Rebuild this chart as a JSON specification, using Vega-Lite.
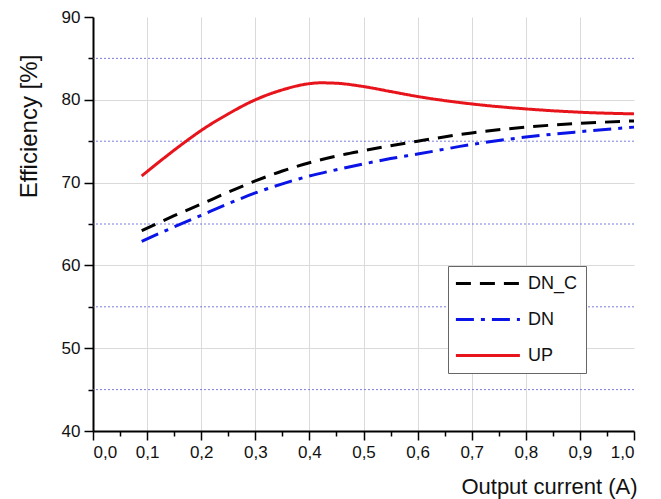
{
  "$schema": "https://vega.github.io/schema/vega-lite/v6.json",
  "width": 541,
  "height": 414,
  "autosize": "none",
  "padding": {"left": 93, "top": 17, "right": 27, "bottom": 68},
  "background": "white",
  "config": {
    "font": "Liberation Sans",
    "view": {"stroke": null},
    "axis": {"labelFont": "Liberation Sans", "titleFont": "Liberation Sans", "labelColor": "#111", "titleColor": "#111", "titleFontWeight": "normal"},
    "legend": {"labelFont": "Liberation Sans"}
  },
  "layer": [
    {
      "data": {"values": [{"level": 45}, {"level": 55}, {"level": 65}, {"level": 75}, {"level": 85}]},
      "mark": {"type": "rule", "color": "#5b5bd6", "strokeDash": [2, 2], "strokeWidth": 1, "opacity": 0.8},
      "encoding": {
        "y": {"field": "level", "type": "quantitative", "scale": {"domain": [40, 90], "nice": false},
          "axis": {"orient": "left", "values": [45, 55, 65, 75, 85], "labels": false, "title": null, "domain": false, "grid": false, "tickSize": 5, "tickColor": "black", "tickWidth": 1.5}}
      }
    },
    {
      "data": {"values": [{"minor": 0.05}, {"minor": 0.15}, {"minor": 0.25}, {"minor": 0.35}, {"minor": 0.45}, {"minor": 0.55}, {"minor": 0.65}, {"minor": 0.75}, {"minor": 0.85}, {"minor": 0.95}]},
      "mark": {"type": "rule", "opacity": 0},
      "encoding": {
        "x": {"field": "minor", "type": "quantitative", "scale": {"domain": [0, 1], "nice": false},
          "axis": {"orient": "bottom", "values": [0.05, 0.15, 0.25, 0.35, 0.45, 0.55, 0.65, 0.75, 0.85, 0.95], "labels": false, "title": null, "domain": false, "grid": false, "tickSize": 5, "tickColor": "black", "tickWidth": 1.5}}
      }
    },
    {
      "data": {"values": [
        {"current": 0.09, "efficiency": 64.2, "series": "DN_C"},
        {"current": 0.15, "efficiency": 66.0, "series": "DN_C"},
        {"current": 0.2, "efficiency": 67.4, "series": "DN_C"},
        {"current": 0.25, "efficiency": 68.85, "series": "DN_C"},
        {"current": 0.3, "efficiency": 70.2, "series": "DN_C"},
        {"current": 0.35, "efficiency": 71.4, "series": "DN_C"},
        {"current": 0.4, "efficiency": 72.4, "series": "DN_C"},
        {"current": 0.45, "efficiency": 73.2, "series": "DN_C"},
        {"current": 0.5, "efficiency": 73.85, "series": "DN_C"},
        {"current": 0.55, "efficiency": 74.45, "series": "DN_C"},
        {"current": 0.6, "efficiency": 75.0, "series": "DN_C"},
        {"current": 0.7, "efficiency": 76.0, "series": "DN_C"},
        {"current": 0.8, "efficiency": 76.7, "series": "DN_C"},
        {"current": 0.9, "efficiency": 77.15, "series": "DN_C"},
        {"current": 1.0, "efficiency": 77.45, "series": "DN_C"},
        {"current": 0.09, "efficiency": 62.9, "series": "DN"},
        {"current": 0.15, "efficiency": 64.65, "series": "DN"},
        {"current": 0.2, "efficiency": 66.05, "series": "DN"},
        {"current": 0.25, "efficiency": 67.45, "series": "DN"},
        {"current": 0.3, "efficiency": 68.75, "series": "DN"},
        {"current": 0.35, "efficiency": 69.85, "series": "DN"},
        {"current": 0.4, "efficiency": 70.8, "series": "DN"},
        {"current": 0.45, "efficiency": 71.55, "series": "DN"},
        {"current": 0.5, "efficiency": 72.25, "series": "DN"},
        {"current": 0.55, "efficiency": 72.9, "series": "DN"},
        {"current": 0.6, "efficiency": 73.45, "series": "DN"},
        {"current": 0.7, "efficiency": 74.6, "series": "DN"},
        {"current": 0.8, "efficiency": 75.5, "series": "DN"},
        {"current": 0.9, "efficiency": 76.15, "series": "DN"},
        {"current": 1.0, "efficiency": 76.7, "series": "DN"},
        {"current": 0.09, "efficiency": 70.8, "series": "UP"},
        {"current": 0.13, "efficiency": 72.9, "series": "UP"},
        {"current": 0.17, "efficiency": 74.9, "series": "UP"},
        {"current": 0.2, "efficiency": 76.3, "series": "UP"},
        {"current": 0.25, "efficiency": 78.3, "series": "UP"},
        {"current": 0.3, "efficiency": 80.0, "series": "UP"},
        {"current": 0.35, "efficiency": 81.2, "series": "UP"},
        {"current": 0.4, "efficiency": 81.95, "series": "UP"},
        {"current": 0.42, "efficiency": 82.05, "series": "UP"},
        {"current": 0.45, "efficiency": 82.0, "series": "UP"},
        {"current": 0.5, "efficiency": 81.6, "series": "UP"},
        {"current": 0.55, "efficiency": 81.0, "series": "UP"},
        {"current": 0.6, "efficiency": 80.4, "series": "UP"},
        {"current": 0.7, "efficiency": 79.5, "series": "UP"},
        {"current": 0.8, "efficiency": 78.9, "series": "UP"},
        {"current": 0.9, "efficiency": 78.5, "series": "UP"},
        {"current": 1.0, "efficiency": 78.3, "series": "UP"}
      ]},
      "mark": {"type": "line", "interpolate": "monotone", "strokeWidth": 3},
      "encoding": {
        "x": {"field": "current", "type": "quantitative", "scale": {"domain": [0, 1], "nice": false},
          "axis": {"orient": "bottom", "values": [0, 0.1, 0.2, 0.3, 0.4, 0.5, 0.6, 0.7, 0.8, 0.9, 1.0],
            "labelExpr": "replace(format(datum.value, '.1f'), '.', ',')",
            "labelFont": "Liberation Sans", "labelFontSize": 17, "labelPadding": 4, "tickSize": 9, "tickColor": "black", "tickWidth": 1.5,
            "domainColor": "black", "domainWidth": 2,
            "grid": true, "gridColor": "#dadada", "gridWidth": 1,
            "gridOpacity": {"condition": {"test": "datum.value == 0 || datum.value == 1", "value": 0}, "value": 1},
            "title": "Output current (A)", "titleFont": "Liberation Sans", "titleFontSize": 22,
            "titleX": 544, "titleY": 62, "titleAlign": "right", "titleBaseline": "alphabetic"}},
        "y": {"field": "efficiency", "type": "quantitative", "scale": {"domain": [40, 90], "nice": false},
          "axis": {"orient": "left", "values": [40, 50, 60, 70, 80, 90],
            "labelFont": "Liberation Sans", "labelFontSize": 17, "labelPadding": 4, "tickSize": 9, "tickColor": "black", "tickWidth": 1.5,
            "domainColor": "black", "domainWidth": 2,
            "grid": true, "gridColor": "#dadada", "gridWidth": 1,
            "gridOpacity": {"condition": {"test": "datum.value == 40 || datum.value == 90", "value": 0}, "value": 1},
            "title": "Efficiency [%]", "titleFont": "Liberation Sans", "titleFontSize": 24,
            "titleX": -64, "titleY": 109, "titleAngle": 270, "titleAlign": "center", "titleBaseline": "middle"}},
        "color": {"field": "series", "type": "nominal",
          "scale": {"domain": ["DN_C", "DN", "UP"], "range": ["#000000", "#0a14e6", "#e8141c"]},
          "legend": {"orient": "none", "legendX": 355, "legendY": 249, "title": null,
            "symbolType": "M-1.2,0H6.8", "symbolSize": 256, "symbolStrokeWidth": 3,
            "labelFont": "Liberation Sans", "labelFontSize": 18, "labelColor": "#111", "labelOffset": 53,
            "padding": 8, "rowPadding": 17, "strokeColor": "#666", "fillColor": "white"}},
        "strokeDash": {"field": "series", "type": "nominal",
          "scale": {"domain": ["DN_C", "DN", "UP"], "range": [[15, 9], [18, 7, 4, 7], [1, 0]]}}
      }
    }
  ],
  "resolve": {"axis": {"x": "independent", "y": "independent"}}
}
